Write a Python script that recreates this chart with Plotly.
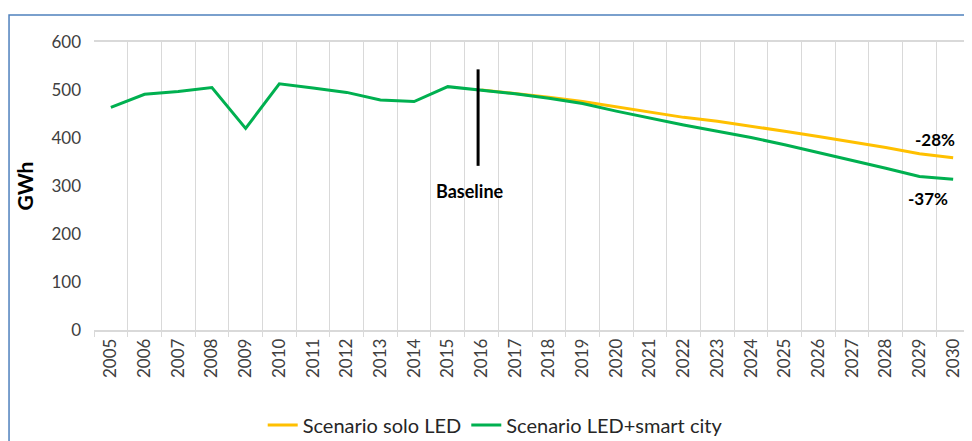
import plotly.graph_objects as go

# Years on the category axis
years = [str(y) for y in range(2005, 2031)]

# Historical consumption + LED/smart city scenario (GWh)
led_smart = [464, 491, 497, 505, 420, 513, 504, 495, 479, 476, 507, 500,
             492, 483, 472, 456, 441, 427, 414, 401, 386, 370, 354, 337, 320, 314]

# LED-only scenario, starting from the 2016 baseline
solo_years = years[11:]
solo_led = [500, 493, 485, 476, 465, 454, 443, 435, 425, 414, 403, 392, 380, 367, 359]

baseline_year_pos = 10.9
baseline_range = [342, 543]

FONT = "Lato"

fig = go.Figure()

fig.add_trace(go.Scatter(x=solo_years, y=solo_led, mode='lines',
                         line=dict(color='#FFC000', width=3),
                         name='Scenario solo LED'))
fig.add_trace(go.Scatter(x=years, y=led_smart, mode='lines',
                         line=dict(color='#00B050', width=3),
                         name='Scenario LED+smart city'))

# Baseline marker
fig.add_shape(type='line', xref='x', yref='y',
              x0=baseline_year_pos, x1=baseline_year_pos,
              y0=baseline_range[0], y1=baseline_range[1],
              line=dict(color='black', width=3))

# Outer frame
fig.add_shape(type='rect', xref='paper', yref='paper',
              x0=-0.097, x1=1.02, y0=-0.45, y1=1.094,
              line=dict(color='#4F81BD', width=1.5), layer='below')

fig.add_annotation(x=10.66, y=290, text='<b>Baseline</b>', showarrow=False,
                   font=dict(family=FONT, size=18, color='black'))
fig.add_annotation(x=24.46, y=396, text='<b>-28%</b>', showarrow=False,
                   font=dict(family=FONT, size=17, color='black'))
fig.add_annotation(x=24.25, y=273, text='<b>-37%</b>', showarrow=False,
                   font=dict(family=FONT, size=17, color='black'))

# page body adds an 8px offset, so the figure is 8px smaller on each side
fig.update_layout(
    width=964, height=433,
    margin=dict(l=86, r=2, t=34, b=111),
    paper_bgcolor='white', plot_bgcolor='white',
    font=dict(family=FONT, color='#404040'),
    showlegend=True,
    legend=dict(orientation='h', x=0.458, xanchor='center',
                yref='container', y=0.037, yanchor='middle',
                font=dict(family=FONT, size=20, color='#262626'), itemwidth=30),
    xaxis=dict(type='category', categoryorder='array', categoryarray=years,
               range=[-0.5, len(years) - 0.5],
               tickson='boundaries', showgrid=True,
               gridcolor='#D9D9D9', gridwidth=1,
               showline=True, linecolor='#D9D9D9', linewidth=1.5, mirror=True,
               ticks='outside', ticklen=5, tickcolor='#D9D9D9',
               tickangle=-90, tickfont=dict(family=FONT, size=17, color='#404040')),
    yaxis=dict(range=[0, 600], dtick=100, showgrid=False, zeroline=False,
               showline=False, ticklabelstandoff=12,
               tickfont=dict(family=FONT, size=17, color='#404040'),
               title=dict(text='<b>GWh</b>', standoff=12,
                          font=dict(family=FONT, size=21, color='black'))),
)

fig.write_html("out.html")
